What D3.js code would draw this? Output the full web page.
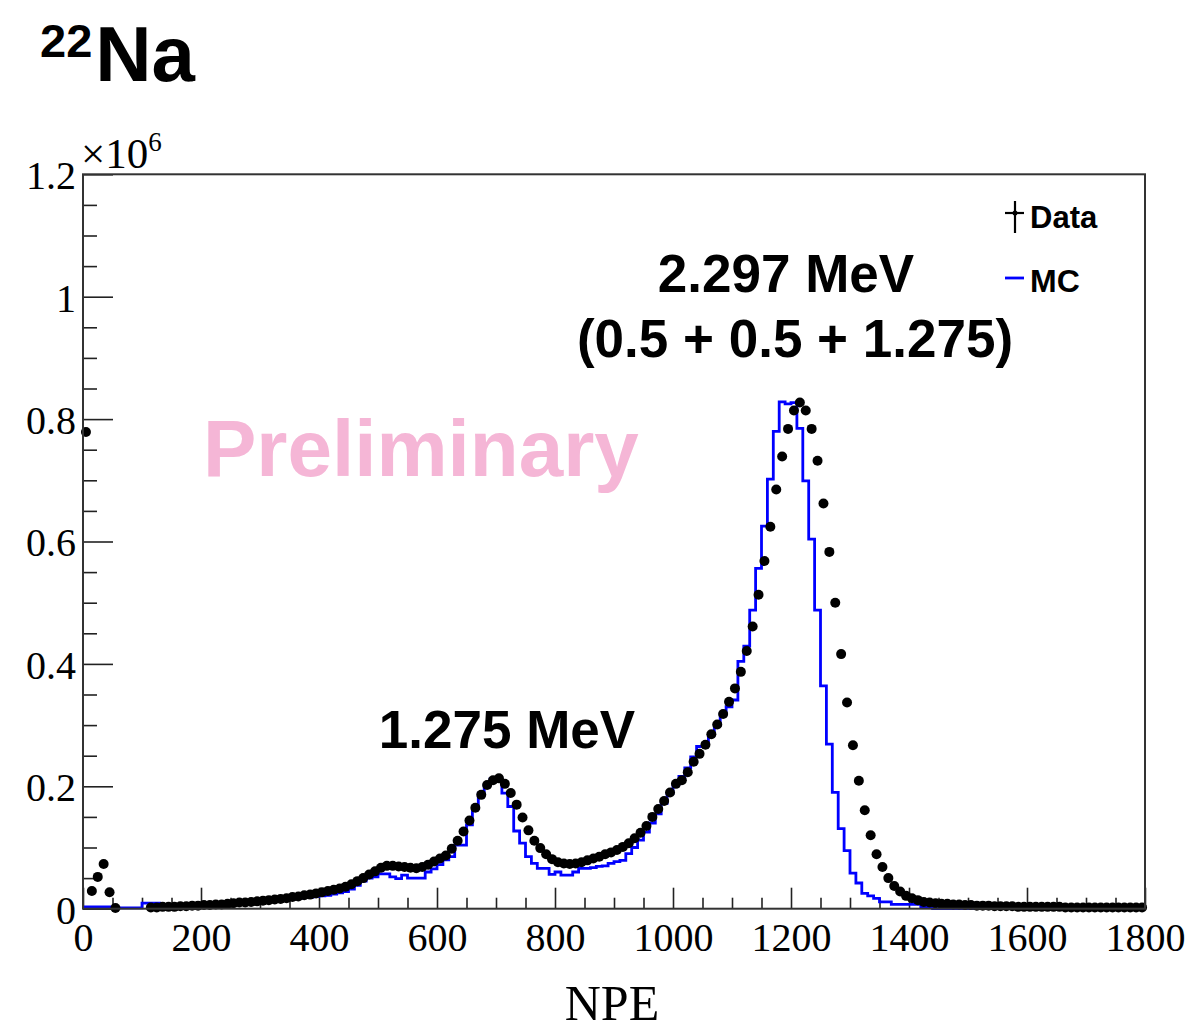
<!DOCTYPE html>
<html>
<head>
<meta charset="utf-8">
<script src="https://cdn.jsdelivr.net/npm/d3@7"></script>
<style>
  body { margin: 0; background: #fff; }
  svg { display: block; }
</style>
</head>
<body>
<svg id="chart" width="1193" height="1030"></svg>
<script>
// NPE spectrum of the 22Na source, 10 NPE per bin from 0 to 1800.
const binWidth = 10;

// Measured counts per bin (x 10^6)
const dataCounts = [
  0.779, 0.029, 0.052, 0.073, 0.027, 0.001, 0, 0, 0, 0,
  0, 0.002, 0.002, 0.003, 0.003, 0.003, 0.004, 0.004, 0.005, 0.005,
  0.006, 0.006, 0.007, 0.007, 0.008, 0.009, 0.010, 0.010, 0.011, 0.012,
  0.013, 0.014, 0.015, 0.016, 0.017, 0.019, 0.020, 0.022, 0.023, 0.025,
  0.027, 0.029, 0.031, 0.033, 0.036, 0.040, 0.045, 0.050, 0.056, 0.061,
  0.067, 0.070, 0.070, 0.069, 0.068, 0.067, 0.066, 0.068, 0.072, 0.077,
  0.082, 0.087, 0.098, 0.111, 0.126, 0.144, 0.165, 0.186, 0.202, 0.210,
  0.213, 0.204, 0.189, 0.170, 0.149, 0.128, 0.111, 0.099, 0.089, 0.081,
  0.076, 0.074, 0.073, 0.074, 0.076, 0.079, 0.082, 0.085, 0.089, 0.092,
  0.096, 0.101, 0.107, 0.115, 0.124, 0.135, 0.150, 0.163, 0.176, 0.190,
  0.204, 0.210, 0.223, 0.240, 0.253, 0.268, 0.285, 0.301, 0.318, 0.338,
  0.360, 0.387, 0.421, 0.461, 0.513, 0.568, 0.624, 0.685, 0.739, 0.784,
  0.814, 0.827, 0.814, 0.784, 0.732, 0.662, 0.583, 0.500, 0.416, 0.337,
  0.267, 0.209, 0.161, 0.120, 0.089, 0.068, 0.050, 0.037, 0.028, 0.021,
  0.017, 0.014, 0.011, 0.010, 0.009, 0.008, 0.008, 0.007, 0.007, 0.006,
  0.006, 0.005, 0.005, 0.005, 0.004, 0.004, 0.004, 0.004, 0.003, 0.003,
  0.003, 0.003, 0.003, 0.003, 0.003, 0.003, 0.002, 0.002, 0.002, 0.002,
  0.002, 0.002, 0.002, 0.002, 0.002, 0.002, 0.002, 0.002, 0.002, 0.002
];

// Simulated counts per bin (x 10^6)
const mcCounts = [
  0.003, 0.003, 0.003, 0.003, 0.003, 0.0015, 0.0015, 0.0015, 0.0015, 0.0015,
  0.009, 0.009, 0.009, 0.003, 0.003, 0.003, 0.004, 0.004, 0.004, 0.005,
  0.005, 0.006, 0.006, 0.007, 0.007, 0.008, 0.009, 0.009, 0.010, 0.011,
  0.012, 0.012, 0.013, 0.014, 0.015, 0.016, 0.017, 0.018, 0.019, 0.020,
  0.021, 0.022, 0.024, 0.026, 0.028, 0.032, 0.038, 0.045, 0.050, 0.052,
  0.057, 0.057, 0.052, 0.049, 0.055, 0.050, 0.050, 0.050, 0.060, 0.065,
  0.072, 0.080, 0.085, 0.104, 0.104, 0.137, 0.165, 0.189, 0.202, 0.212,
  0.212, 0.189, 0.167, 0.127, 0.107, 0.085, 0.074, 0.066, 0.066, 0.056,
  0.060, 0.055, 0.055, 0.060, 0.066, 0.066, 0.067, 0.069, 0.070, 0.074,
  0.077, 0.079, 0.090, 0.100, 0.112, 0.125, 0.140, 0.155, 0.172, 0.189,
  0.203, 0.216, 0.230, 0.248, 0.265, 0.270, 0.285, 0.300, 0.318, 0.330,
  0.341, 0.404, 0.429, 0.488, 0.556, 0.625, 0.702, 0.780, 0.828, 0.825,
  0.827, 0.785, 0.699, 0.604, 0.488, 0.364, 0.269, 0.190, 0.131, 0.095,
  0.058, 0.042, 0.025, 0.021, 0.017, 0.011, 0.011, 0.007, 0.007, 0.007,
  0.007, 0.007, 0.003, 0.003, 0, 0, 0, 0, 0, 0,
  0, 0, 0, 0, 0, 0, 0, 0, 0, 0,
  0, 0, 0, 0, 0, 0, 0, 0, 0, 0,
  0, 0, 0, 0, 0, 0, 0, 0, 0, 0
];

const xMajorTicks = [0, 200, 400, 600, 800, 1000, 1200, 1400, 1600, 1800];
const xTickLabels = ["0", "200", "400", "600", "800", "1000", "1200", "1400", "1600", "1800"];
const yMajorTicks = [0, 0.2, 0.4, 0.6, 0.8, 1.0, 1.2];
const yTickLabels = ["0", "0.2", "0.4", "0.6", "0.8", "1", "1.2"];

const frame = { left: 83, right: 1145, top: 174.3, bottom: 908.7 };

const svg = d3.select("#chart");
const x = d3.scaleLinear().domain([0, 1800]).range([frame.left, frame.right]);
const y = d3.scaleLinear().domain([0, 1.2]).range([frame.bottom, frame.top]);

const serif = "'Liberation Serif', 'Times New Roman', serif";
const sans = "'Liberation Sans', Arial, sans-serif";

// Title
const title = svg.append("text")
  .attr("x", 40).attr("y", 81)
  .attr("font-family", sans).attr("font-weight", "bold").attr("fill", "#000");
title.append("tspan").attr("font-size", 47).attr("dy", -24).text("22");
title.append("tspan").attr("font-size", 78).attr("dy", 24).attr("dx", 3).text("Na");

// Watermark
svg.append("text")
  .attr("x", 203).attr("y", 476)
  .attr("font-family", sans).attr("font-weight", "bold")
  .attr("font-size", 80).attr("fill", "#f5b6d6")
  .text("Preliminary");

// Minor and major ticks
const xMinor = d3.range(0, 1801, 50).filter(v => v % 200 !== 0);
const yMinor = d3.range(0, 1.2001, 0.05).filter(v => Math.abs(v / 0.2 - Math.round(v / 0.2)) > 1e-6);

const xAxisMinor = svg.append("g")
  .attr("transform", `translate(0,${frame.bottom})`)
  .call(d3.axisBottom(x).tickValues(xMinor).tickSize(-11).tickFormat(""));
const xAxisMajor = svg.append("g")
  .attr("transform", `translate(0,${frame.bottom})`)
  .call(d3.axisBottom(x).tickValues(xMajorTicks).tickSize(-21).tickPadding(14)
    .tickFormat((d, i) => xTickLabels[i]));
const yAxisMinor = svg.append("g")
  .attr("transform", `translate(${frame.left},0)`)
  .call(d3.axisLeft(y).tickValues(yMinor).tickSize(-14).tickFormat(""));
const yAxisMajor = svg.append("g")
  .attr("transform", `translate(${frame.left},0)`)
  .call(d3.axisLeft(y).tickValues(yMajorTicks).tickSize(-30).tickPadding(7)
    .tickFormat((d, i) => yTickLabels[i]));

[xAxisMinor, xAxisMajor, yAxisMinor, yAxisMajor].forEach(g => {
  g.select(".domain").remove();
  g.selectAll(".tick line").attr("stroke", "#222").attr("stroke-width", 1.6);
  g.selectAll(".tick text")
    .attr("font-family", serif).attr("font-size", 40).attr("fill", "#000");
});
yAxisMajor.selectAll(".tick text").attr("dy", "0.36em");

// Exponent of the y axis
const expo = svg.append("text")
  .attr("x", 81).attr("y", 168)
  .attr("font-family", serif).attr("font-size", 43).attr("fill", "#000");
expo.append("tspan").text("\u00d710");
expo.append("tspan").attr("font-size", 27).attr("dy", -17).text("6");

// Axis title
svg.append("text")
  .attr("x", 612).attr("y", 1020)
  .attr("text-anchor", "middle")
  .attr("font-family", serif).attr("font-size", 50).attr("fill", "#000")
  .text("NPE");

// Simulated histogram outline
const edges = d3.range(mcCounts.length + 1).map(i => i * binWidth);
const mcPoints = mcCounts.map((v, i) => [edges[i], v]);
mcPoints.push([edges[edges.length - 1], mcCounts[mcCounts.length - 1]]);
const step = d3.line()
  .x(d => x(d[0])).y(d => y(d[1]))
  .curve(d3.curveStepAfter);

const plot = svg.append("g");
plot.append("path")
  .datum(mcPoints)
  .attr("d", step)
  .attr("fill", "none")
  .attr("stroke", "#0000ff")
  .attr("stroke-width", 2.8)
  .attr("stroke-linejoin", "miter");

// Measured points with bin-width bars
const pts = dataCounts
  .map((v, i) => ({ lo: i * binWidth, hi: (i + 1) * binWidth, c: (i + 0.5) * binWidth, v }))
  .filter(d => d.v > 0);

plot.selectAll("line.xerr")
  .data(pts).enter().append("line")
  .attr("class", "xerr")
  .attr("x1", d => x(d.lo)).attr("x2", d => x(d.hi))
  .attr("y1", d => y(d.v)).attr("y2", d => y(d.v))
  .attr("stroke", "#000").attr("stroke-width", 1.8);

plot.selectAll("circle.pt")
  .data(pts).enter().append("circle")
  .attr("class", "pt")
  .attr("cx", d => x(d.c)).attr("cy", d => y(d.v))
  .attr("r", 5)
  .attr("fill", "#000");

// Frame
svg.append("rect")
  .attr("x", frame.left).attr("y", frame.top)
  .attr("width", frame.right - frame.left).attr("height", frame.bottom - frame.top)
  .attr("fill", "none").attr("stroke", "#333").attr("stroke-width", 2);

// Peak annotations
const notes = [
  { text: "1.275 MeV", cx: 507, by: 748 },
  { text: "2.297 MeV", cx: 786, by: 292 },
  { text: "(0.5 + 0.5 + 1.275)", cx: 795, by: 357 }
];
svg.selectAll("text.note")
  .data(notes).enter().append("text")
  .attr("class", "note")
  .attr("x", d => d.cx).attr("y", d => d.by)
  .attr("text-anchor", "middle")
  .attr("font-family", sans).attr("font-weight", "bold")
  .attr("font-size", 53).attr("fill", "#000")
  .text(d => d.text);

// Legend
const legend = svg.append("g");
legend.append("line")
  .attr("x1", 1015).attr("x2", 1015).attr("y1", 201).attr("y2", 233)
  .attr("stroke", "#000").attr("stroke-width", 2.2);
legend.append("line")
  .attr("x1", 1005).attr("x2", 1024).attr("y1", 213).attr("y2", 213)
  .attr("stroke", "#000").attr("stroke-width", 2.2);
legend.append("circle")
  .attr("cx", 1015).attr("cy", 213).attr("r", 2.5).attr("fill", "#000");
legend.append("text")
  .attr("x", 1030).attr("y", 228)
  .attr("font-family", sans).attr("font-weight", "bold")
  .attr("font-size", 31).attr("fill", "#000")
  .text("Data");
legend.append("line")
  .attr("x1", 1005).attr("x2", 1024).attr("y1", 278).attr("y2", 278)
  .attr("stroke", "#0000ff").attr("stroke-width", 2.8);
legend.append("text")
  .attr("x", 1030).attr("y", 292)
  .attr("font-family", sans).attr("font-weight", "bold")
  .attr("font-size", 32).attr("fill", "#000")
  .text("MC");
</script>
</body>
</html>
